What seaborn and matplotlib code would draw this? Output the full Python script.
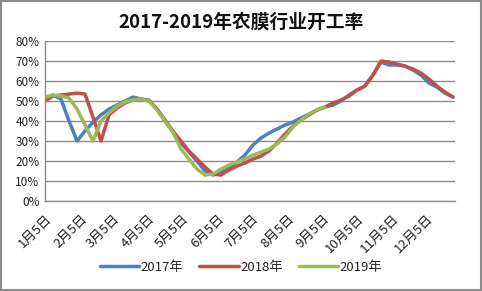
import numpy as np
import pandas as pd
import matplotlib
matplotlib.use("Agg")
import matplotlib.pyplot as plt
import seaborn as sns
from matplotlib.patches import Rectangle

# ---- data (weekly readings, day-of-year positions) ----
days = [5 + 7 * i for i in range(52)]

y2017 = [51, 53, 51, 40, 30, 35, 39.5, 43, 46, 48, 50, 52, 51, 50.5, 46, 40, 34.5, 29,
         24.5, 20, 15, 13, 14.5, 16.5, 19.5, 23, 28, 31.5, 34, 36, 38, 39.5, 41.5, 43.5,
         45.5, 47, 48, 50, 53, 55.5, 57.5, 63, 69.5, 68, 68, 67.5, 65.5, 63, 59, 57, 54, 52]
y2018 = [50, 52.5, 53, 53.5, 54, 53.5, 42, 30, 43, 46.5, 49, 50.5, 51, 50, 46, 40.5, 35, 30,
         25, 21, 17, 13.5, 13, 15.5, 17.5, 19, 21, 22.5, 25, 29, 33.5, 37.5, 40.5, 43,
         45.5, 47, 49, 50.5, 52.5, 55.5, 57.5, 63, 70, 69.5, 68.5, 67.5, 66, 64, 61, 57.5, 54.5, 52]
y2019 = [52, 53, 52.5, 51.5, 46, 38, 30, 40, 44, 47.5, 49.5, 50.5, 51, 50, 45.5, 40, 34.5, 26,
         21, 16, 13, 13.5, 16, 18, 19.5, 21, 23, 24.5, 26, 28.5, 32, 37, 40.5, 43.5,
         45.5, 47] + [np.nan] * 16

series_names = ["2017年", "2018年", "2019年"]
tick_days = [5, 36, 64, 95, 125, 156, 186, 217, 248, 278, 309, 339]
tick_labels = ["1月5日", "2月5日", "3月5日", "4月5日", "5月5日", "6月5日",
               "7月5日", "8月5日", "9月5日", "10月5日", "11月5日", "12月5日"]
y_ticks = [0, 10, 20, 30, 40, 50, 60, 70, 80]
title = "2017-2019年农膜行业开工率"

# ---- build long table ----
frames = []
for name, vals in zip(series_names, [y2017, y2018, y2019]):
    frames.append(pd.DataFrame({"day": days, "rate": vals, "year": name}))
df = pd.concat(frames, ignore_index=True).dropna()

sns.set_theme(style="white")
plt.rcParams["font.family"] = ["Noto Sans CJK SC", "DejaVu Sans"]

fig = plt.figure(figsize=(4.82, 2.91), dpi=100)
ax = fig.add_axes([0.0934, 0.309, 0.851, 0.550])

palette = {"2017年": "#4F81BD", "2018年": "#C0504D", "2019年": "#9BBB59"}
sns.lineplot(data=df, x="day", y="rate", hue="year", palette=palette, ax=ax,
             linewidth=2.5, legend=True, sort=True)

ax.set_xlim(5, 364)
ax.set_ylim(0, 80)
ax.set_yticks(y_ticks)
ax.set_yticklabels([f"{v}%" for v in y_ticks], fontsize=8.5, color="#222222")
ax.set_xticks(tick_days)
ax.set_xticklabels(tick_labels, rotation=45, ha="right", rotation_mode="anchor",
                   fontsize=9.5, color="#222222")
ax.tick_params(axis="both", length=0, pad=4)
ax.tick_params(axis="x", pad=8)
ax.set_xlabel("")
ax.set_ylabel("")
ax.grid(axis="y", color="#8c8c8c", linewidth=1.0)
ax.grid(axis="x", visible=False)
for side in ["top", "right"]:
    ax.spines[side].set_visible(False)
for side in ["left", "bottom"]:
    ax.spines[side].set_visible(True)
    ax.spines[side].set_color("#8c8c8c")
    ax.spines[side].set_linewidth(1.0)

handles, labels = ax.get_legend_handles_labels()
ax.legend_.remove()
fig.legend(handles, labels, loc="center", bbox_to_anchor=(0.50, 0.082), ncol=3,
           frameon=False, fontsize=9.5, handlelength=3.0, columnspacing=1.2,
           handletextpad=0.1)

fig.text(0.5, 0.925, title, ha="center", va="center", fontsize=13.5,
         fontweight="bold", color="#111111")

fig.patches.append(Rectangle((0.002, 0.003), 0.995, 0.994, transform=fig.transFigure,
                             fill=False, edgecolor="#8a8a8a", linewidth=1.5))

fig.savefig("out.png", dpi=100)
